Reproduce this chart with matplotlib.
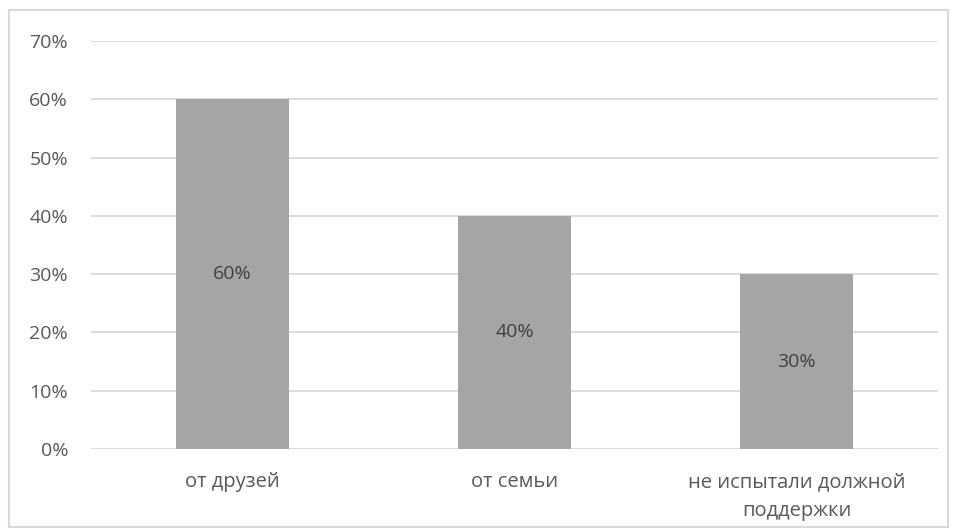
import matplotlib
matplotlib.use("Agg")
import matplotlib.pyplot as plt
from matplotlib.patches import Rectangle
from matplotlib.ticker import FuncFormatter

categories = ["от друзей", "от семьи", "не испытали должной\nподдержки"]
values = [60, 40, 30]
yticks = [0, 10, 20, 30, 40, 50, 60, 70]

plt.rcParams['font.family'] = ['Open Sans', 'DejaVu Sans']

fig = plt.figure(figsize=(9.55, 5.32), dpi=100)
fig.patch.set_facecolor('white')
fig.patches.append(Rectangle((9/955, 1-527/532), 939/955, 517/532,
                             transform=fig.transFigure, fill=False,
                             edgecolor='#D9D9D9', linewidth=1.5))

ax = fig.add_axes([91/955, 1-449/532, 847/955, 408/532])
x = list(range(len(categories)))
bars = ax.bar(x, values, width=0.4, color='#A5A5A5', zorder=3)
for xi, v in zip(x, values):
    ax.text(xi, v/2, f"{v}%", ha='center', va='center', fontsize=14,
            color='#404040', zorder=4)

ax.set_xlim(-0.5, 2.5)
ax.set_ylim(0, 70)
ax.set_yticks(yticks)
ax.yaxis.set_major_formatter(FuncFormatter(lambda v, p: f"{int(v)}%"))
ax.set_xticks(x)
ax.set_xticklabels(categories, linespacing=1.62, fontsize=14.5)
ax.tick_params(axis='y', length=0, labelsize=14, labelcolor='#595959', pad=16.5)
ax.tick_params(axis='x', length=0, labelcolor='#595959', pad=16.5)
for s in ax.spines.values():
    s.set_visible(False)
ax.grid(axis='y', color='#D9D9D9', linewidth=1.3, zorder=0)
ax.set_axisbelow(True)

fig.savefig("out.png", dpi=100)
